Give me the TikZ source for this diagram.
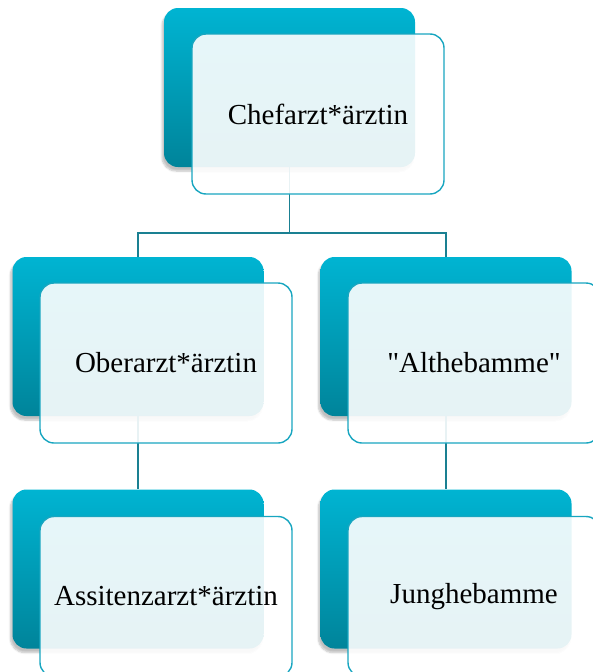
\documentclass[tikz,border=0pt]{standalone}
\usepackage{fontspec}
\setmainfont{Liberation Serif}
\usetikzlibrary{shadows.blur}
\definecolor{tealtop}{RGB}{0,180,210}
\definecolor{tealbot}{RGB}{0,132,154}
\definecolor{frameline}{RGB}{24,166,192}
\definecolor{connline}{RGB}{26,128,146}
\tikzset{
  backbox/.style={rectangle, rounded corners=14pt, minimum width=251pt, minimum height=159pt,
    inner sep=0pt, top color=tealtop, bottom color=tealbot, draw=none,
    blur shadow={shadow xshift=-2pt, shadow yshift=-4pt, shadow blur steps=6, shadow opacity=25}},
  frontbox/.style={rectangle, rounded corners=14pt, minimum width=252pt, minimum height=160pt,
    inner sep=0pt, draw=frameline, line width=1.4pt, fill=white, fill opacity=0.9, text opacity=1,
    font=\fontsize{29}{34}\selectfont, text=black},
  conn/.style={draw=connline, line width=1.4pt}
}
\begin{document}
\begin{tikzpicture}[x=1pt,y=-1pt]
\useasboundingbox (0,0) rectangle (593,672);
\clip (0,0) rectangle (593,672);
\node[backbox] (b1) at (289.5,87.5) {};
\node[backbox] (b2) at (138,336.5) {};
\node[backbox] (b3) at (446,336.5) {};
\node[backbox] (b4) at (138,569) {};
\node[backbox] (b5) at (446,569) {};
\coordinate (j) at (289.5,233);
\draw[conn] (b1.south) -- (j);
\draw[conn] (j) -| (b2.north);
\draw[conn] (j) -| (b3.north);
\draw[conn] (b2.south) -- (b4.north);
\draw[conn] (b3.south) -- (b5.north);
\node[frontbox] (f1) at (318,114) {Chefarzt*ärztin};
\node[frontbox] (f2) at (166,363) {Oberarzt*ärztin};
\node[frontbox] (f3) at (474,363) {\textquotedbl Althebamme\textquotedbl};
\node[frontbox] (f4) at (166,596.5) {Assitenzarzt*ärztin};
\node[frontbox] (f5) at (474,596.5) {Junghebamme};
\end{tikzpicture}
\end{document}
